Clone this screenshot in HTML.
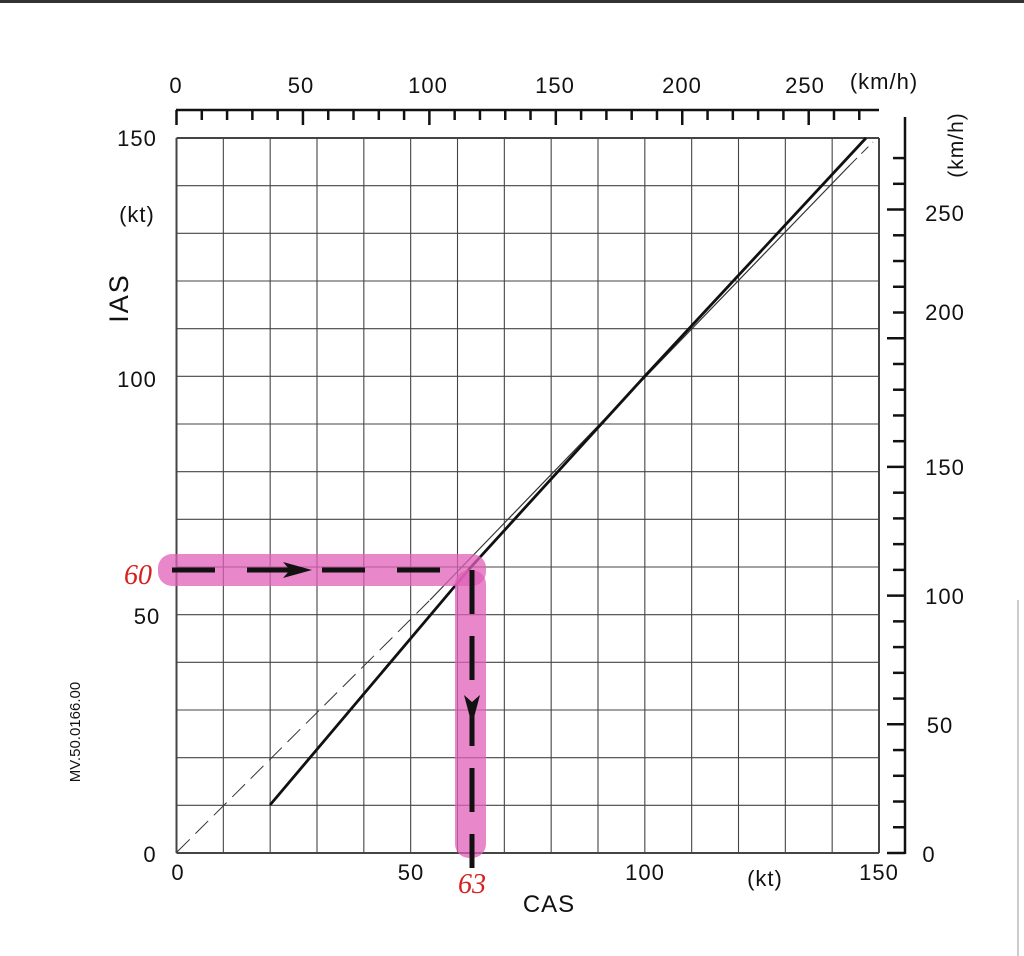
<!DOCTYPE html>
<html><head><style>
html,body{margin:0;padding:0;background:#fff;}
svg{display:block;font-family:"Liberation Sans",sans-serif;}
</style></head><body>
<svg width="1024" height="956" viewBox="0 0 1024 956" xmlns="http://www.w3.org/2000/svg">
<rect width="1024" height="956" fill="#fff"/>
<rect x="0" y="0" width="1024" height="3" fill="#333"/>
<line x1="1018" y1="600" x2="1018" y2="956" stroke="#ccc" stroke-width="2"/>
<g id="grid" stroke="#444" stroke-width="1.1">
</g>
<script>
(function(){
var ns="http://www.w3.org/2000/svg",g=document.getElementById('grid');
var X0=176.5,X1=879,Y0=853,Y1=138;
for(var i=0;i<=15;i++){var x=X0+(X1-X0)*i/15;var l=document.createElementNS(ns,'line');l.setAttribute('x1',x);l.setAttribute('x2',x);l.setAttribute('y1',Y1);l.setAttribute('y2',Y0);if(i==0||i==15)l.setAttribute('stroke-width','2');g.appendChild(l);}
for(var j=0;j<=15;j++){var y=Y0-(Y0-Y1)*j/15;var l=document.createElementNS(ns,'line');l.setAttribute('y1',y);l.setAttribute('y2',y);l.setAttribute('x1',X0);l.setAttribute('x2',X1);if(j==0||j==15)l.setAttribute('stroke-width','2');g.appendChild(l);}
var kx=(X1-X0)/150/1.852;
for(var k=0;k<=270;k+=10){var x=X0+k*kx;var l=document.createElementNS(ns,'line');l.setAttribute('x1',x);l.setAttribute('x2',x);l.setAttribute('y1',110);l.setAttribute('y2',k%50==0?125:120);l.setAttribute('stroke','#111');l.setAttribute('stroke-width','2.5');g.appendChild(l);}
var ky=(Y0-Y1)/150/1.852;
for(var k=0;k<=270;k+=10){var y=Y0-k*ky;var l=document.createElementNS(ns,'line');l.setAttribute('y1',y);l.setAttribute('y2',y);l.setAttribute('x1',905);l.setAttribute('x2',k%50==0?887:893);l.setAttribute('stroke','#111');l.setAttribute('stroke-width','2.5');g.appendChild(l);}
})();
</script>
<line x1="176" y1="110" x2="879" y2="110" stroke="#111" stroke-width="2.5"/>
<line x1="905" y1="117" x2="905" y2="854" stroke="#111" stroke-width="2.5"/>
<line x1="177" y1="852" x2="430" y2="600" stroke="#333" stroke-width="1" stroke-dasharray="18,8"/>
<line x1="430" y1="600" x2="850" y2="165" stroke="#333" stroke-width="1.2"/>
<line x1="850" y1="165" x2="873" y2="142" stroke="#333" stroke-width="1" stroke-dasharray="10,6"/>
<polyline points="270,805 471,567 645,376 866,138" fill="none" stroke="#111" stroke-width="2.8"/>
<g fill="#e060b8" fill-opacity="0.75">
<rect x="158" y="554" width="328" height="32" rx="14"/>
<rect x="455" y="570" width="31" height="288" rx="14"/>
</g>
<line x1="150" y1="570" x2="471" y2="570" stroke="#111" stroke-width="5" stroke-dasharray="43,32" stroke-dashoffset="-22"/>
<line x1="472" y1="570" x2="472" y2="868" stroke="#111" stroke-width="5" stroke-dasharray="44,22"/>
<polygon points="283,562 312,570 283,578 290,570" fill="#111"/>
<polygon points="464,695 472,725 480,695 472,702" fill="#111"/>
<g font-size="22" fill="#111" text-anchor="middle" letter-spacing="1">
<text x="176" y="93">0</text><text x="301" y="93">50</text><text x="428" y="93">100</text>
<text x="555" y="93">150</text><text x="682" y="93">200</text><text x="805" y="93">250</text>
<text x="884" y="89">(km/h)</text>
<text x="137" y="146">150</text><text x="137" y="222">(kt)</text>
<text x="137" y="387">100</text><text x="147" y="624">50</text><text x="150" y="862">0</text>
<text x="178" y="880">0</text><text x="411" y="880">50</text><text x="645" y="880">100</text>
<text x="765" y="886">(kt)</text><text x="879" y="880">150</text>
<text x="549" y="912" font-size="24">CAS</text>
<text x="945" y="221">250</text><text x="945" y="320">200</text>
<text x="945" y="475">150</text><text x="945" y="604">100</text><text x="940" y="733">50</text>
<text x="929" y="862">0</text>
</g>
<text transform="translate(128,298) rotate(-90)" font-size="27" fill="#111" text-anchor="middle" letter-spacing="2">IAS</text>
<text transform="translate(963,145) rotate(-90)" font-size="21" fill="#111" text-anchor="middle" letter-spacing="1">(km/h)</text>
<text transform="translate(80,732) rotate(-90)" font-size="15" fill="#111" text-anchor="middle">MV.50.0166.00</text>
<g font-family="Liberation Serif,serif" font-style="italic" font-size="28" fill="#d42020" text-anchor="middle">
<text x="138" y="584">60</text><text x="472" y="893">63</text>
</g>
</svg>
</body></html>
